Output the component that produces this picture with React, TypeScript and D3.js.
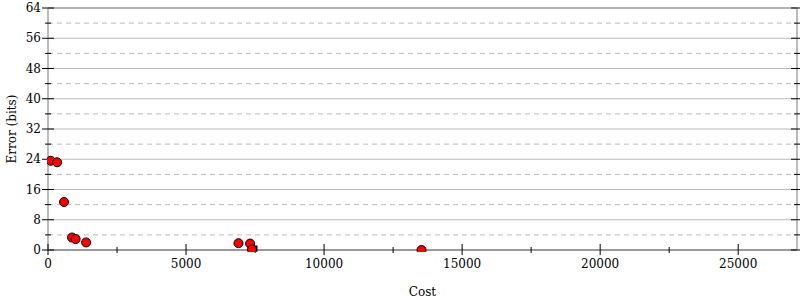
import React from "react";
import * as d3 from "d3";

const costs = [100, 330, 580, 870, 1000, 1380, 6900, 7320, 7390, 13530];
const errors = [23.6, 23.2, 12.7, 3.3, 2.9, 2.0, 1.8, 1.7, 0.1, 0.0];
const bestCost = [7480];
const bestError = [0.4];
const yMajor = [0, 8, 16, 24, 32, 40, 48, 56, 64];
const yMinor = [4, 12, 20, 28, 36, 44, 52, 60];
const xMajor = [0, 5000, 10000, 15000, 20000, 25000];
const xMinor = [2500, 7500, 12500, 17500, 22500];

export default function App() {
  const W = 800, H = 300;
  const left = 48, right = 797, top = 8, bottom = 250;
  const x = d3.scaleLinear().domain([0, 27130]).range([left, right]);
  const y = d3.scaleLinear().domain([0, 64]).range([bottom, top]);
  const font = "'DejaVu Serif', serif";
  const fs = 12;
  return (
    <svg width={W} height={H} style={{ position: "absolute", left: 0, top: 0 }}>
      <defs>
        <clipPath id="plot">
          <rect x={left - 1} y={top - 1} width={right - left + 2} height={bottom - top + 3} />
        </clipPath>
      </defs>
      <rect x={0} y={0} width={W} height={H} fill="#fff" />
      {yMajor.filter(v => v > 0 && v < 64).map(v => (
        <line key={"g" + v} x1={left} x2={right} y1={y(v)} y2={y(v)} stroke="#bbb" strokeWidth={1} />
      ))}
      {yMinor.map(v => (
        <line key={"m" + v} x1={left} x2={right} y1={y(v)} y2={y(v)} stroke="#bbb" strokeWidth={1} strokeDasharray="5,4" />
      ))}
      <line x1={left} x2={right} y1={y(64)} y2={y(64)} stroke="#999" strokeWidth={1.5} />
      <line x1={left} x2={right} y1={y(0)} y2={y(0)} stroke="#999" strokeWidth={2} />
      <line x1={left} x2={left} y1={top} y2={bottom} stroke="#bbb" strokeWidth={2} />
      <line x1={right} x2={right} y1={top} y2={bottom} stroke="#bbb" strokeWidth={2} />
      {yMajor.map(v => (
        <g key={"yt" + v}>
          <line x1={left - 6} x2={left + 6} y1={y(v)} y2={y(v)} stroke="#000" strokeWidth={1} />
          <line x1={right - 6} x2={right + 4} y1={y(v)} y2={y(v)} stroke="#000" strokeWidth={1} />
          <text x={left - 7} y={y(v)} dy="0.35em" textAnchor="end" fontFamily={font} fontSize={fs}>{v}</text>
        </g>
      ))}
      {yMinor.map(v => (
        <g key={"ym" + v}>
          <line x1={left - 3} x2={left + 3} y1={y(v)} y2={y(v)} stroke="#000" strokeWidth={1} />
          <line x1={right - 3} x2={right + 3} y1={y(v)} y2={y(v)} stroke="#000" strokeWidth={1} />
        </g>
      ))}
      {xMajor.map(v => (
        <g key={"xt" + v}>
          <line x1={x(v)} x2={x(v)} y1={bottom - 6} y2={bottom + 5} stroke="#000" strokeWidth={1} />
          <text x={x(v)} y={bottom + 18} textAnchor="middle" fontFamily={font} fontSize={fs}>{v}</text>
        </g>
      ))}
      {xMinor.map(v => (
        <line key={"xm" + v} x1={x(v)} x2={x(v)} y1={bottom - 3} y2={bottom + 3} stroke="#000" strokeWidth={1} />
      ))}
      <g clipPath="url(#plot)">
        {bestCost.map((c, i) => (
          <rect key={"b" + i} x={x(c) - 3} y={y(bestError[i]) - 3} width={6} height={6} fill="#000" />
        ))}
        {costs.map((c, i) => (
          <circle key={"p" + i} cx={x(c)} cy={y(errors[i])} r={4.5} fill="#f00" stroke="#000" strokeWidth={1} />
        ))}
      </g>
      <text x={(left + right) / 2} y={296} textAnchor="middle" fontFamily={font} fontSize={fs}>Cost</text>
      <text transform={`translate(16,${(top + bottom) / 2}) rotate(-90)`} textAnchor="middle" fontFamily={font} fontSize={fs}>Error (bits)</text>
    </svg>
  );
}
